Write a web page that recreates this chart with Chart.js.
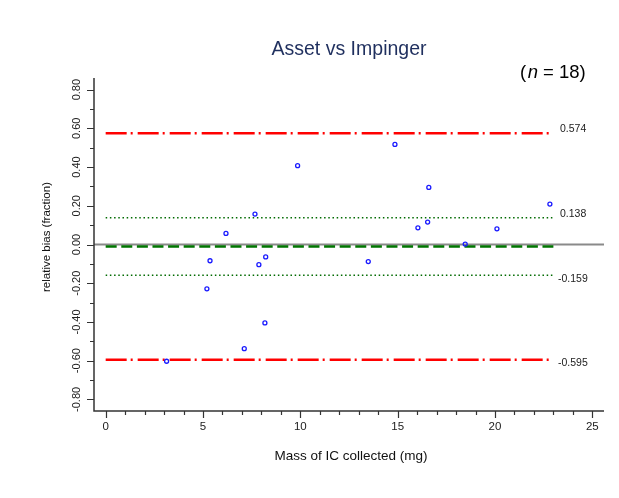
<!DOCTYPE html>
<html>
<head>
<meta charset="utf-8">
<script src="https://cdn.jsdelivr.net/npm/chart.js@4"></script>
<style>
  body { margin: 0; background: #fff; }
  #wrap { width: 619px; height: 498px; position: relative; }
</style>
</head>
<body>
<div id="wrap"><canvas id="biasChart"></canvas></div>
<script>
// mass collected (mg) and relative bias for each sample pair
let mass = [3.13, 5.2, 5.36, 6.18, 7.12, 7.67, 7.87, 8.18, 8.22, 9.86, 13.49, 14.86, 16.04, 16.54, 16.6, 18.47, 20.1, 22.82];
let bias = [-0.603, -0.229, -0.084, 0.057, -0.538, 0.157, -0.104, -0.405, -0.064, 0.407, -0.088, 0.517, 0.086, 0.116, 0.295, 0.002, 0.081, 0.209];

// mean bias, +/- 1 sd and +/- 95% limits
let meanBias = -0.0105;
let sdLimits = [0.138, -0.159];
let outerLimits = [0.574, -0.595];
let lineStart = 0;
let lineEnd = 23;

let xTicks = [0, 5, 10, 15, 20, 25];
let yTicks = [-0.8, -0.6, -0.4, -0.2, 0, 0.2, 0.4, 0.6, 0.8];

const FONT = '"Liberation Sans", Arial, sans-serif';

function hline(v, color, width, dash) {
  return {
    type: 'line',
    data: [{x: lineStart, y: v}, {x: lineEnd, y: v}],
    borderColor: color,
    borderWidth: width,
    borderDash: dash,
    pointRadius: 0,
    fill: false,
    order: 2
  };
}

let datasets = [{
  type: 'scatter',
  data: mass.map((m, i) => ({x: m, y: bias[i]})),
  pointRadius: 2,
  pointBorderWidth: 1.3,
  pointBorderColor: '#1a1aff',
  pointBackgroundColor: 'rgba(255,255,255,0)',
  order: 0
}];
outerLimits.forEach(v => datasets.push(hline(v, '#ff0000', 2.5, [21, 4, 2, 5])));
sdLimits.forEach(v => datasets.push(hline(v, '#006a00', 1.5, [1.5, 2.7])));
datasets.push(hline(meanBias, '#007500', 2.5, [11, 4.6]));

// axes, ticks and text drawn by hand so the layout stays fixed
const decor = {
  id: 'decor',
  beforeDatasetsDraw(chart) {
    const c = chart.ctx, a = chart.chartArea;
    const y = chart.scales.y;
    c.save();
    c.strokeStyle = '#8a8a8a';
    c.lineWidth = 2;
    c.beginPath();
    c.moveTo(a.left, y.getPixelForValue(0));
    c.lineTo(a.right, y.getPixelForValue(0));
    c.stroke();
    c.restore();
  },
  afterDraw(chart) {
    const c = chart.ctx, a = chart.chartArea;
    const x = chart.scales.x, y = chart.scales.y;
    c.save();
    c.strokeStyle = '#333';
    c.lineWidth = 1.5;
    c.beginPath();
    c.moveTo(a.left, a.top);
    c.lineTo(a.left, a.bottom);
    c.lineTo(a.right, a.bottom);
    c.stroke();

    c.lineWidth = 1.2;
    c.beginPath();
    for (let i = -8; i <= 8; i++) {
      let py = Math.round(y.getPixelForValue(i / 10)) + 0.5;
      c.moveTo(a.left, py);
      c.lineTo(a.left - (i % 2 === 0 ? 7 : 4), py);
    }
    for (let i = 0; i <= 25; i++) {
      let px = Math.round(x.getPixelForValue(i)) + 0.5;
      c.moveTo(px, a.bottom);
      c.lineTo(px, a.bottom + (i % 5 === 0 ? 7 : 4));
    }
    c.stroke();

    c.fillStyle = '#222';
    c.font = '11.5px ' + FONT;
    c.textAlign = 'center';
    c.textBaseline = 'middle';
    xTicks.forEach(t => c.fillText(String(t), x.getPixelForValue(t), 427));
    c.font = '11px ' + FONT;
    yTicks.forEach(t => {
      c.save();
      c.translate(77, y.getPixelForValue(t));
      c.rotate(-Math.PI / 2);
      c.fillText(t.toFixed(2), 0, 0);
      c.restore();
    });

    // limit values beside the lines
    c.font = '10.5px ' + FONT;
    c.textAlign = 'left';
    outerLimits.concat(sdLimits).forEach(v => {
      let py = y.getPixelForValue(v) + (v > 0 ? -4 : 3.5);
      c.fillText(v.toFixed(3), v > 0 ? 560 : 558, py);
    });

    c.textAlign = 'center';
    c.font = '13.5px ' + FONT;
    c.fillStyle = '#111';
    c.fillText('Mass of IC collected (mg)', 351, 456);
    c.save();
    c.translate(47, 237);
    c.rotate(-Math.PI / 2);
    c.font = '11.5px ' + FONT;
    c.fillText('relative bias (fraction)', 0, 0);
    c.restore();

    c.font = '19.5px ' + FONT;
    c.fillStyle = '#1f2f5e';
    c.fillText('Asset vs Impinger', 349, 50);

    // sample count
    c.fillStyle = '#000';
    c.font = '18.5px ' + FONT;
    c.textAlign = 'left';
    let px = 520;
    c.fillText('(', px, 73); px += c.measureText('(').width + 1.5;
    c.font = 'italic 18.5px ' + FONT;
    c.fillText('n', px, 73); px += c.measureText('n').width;
    c.font = '18.5px ' + FONT;
    c.fillText(' = 18)', px, 73);
    c.restore();
  }
};

new Chart(document.getElementById('biasChart'), {
  type: 'scatter',
  data: { datasets: datasets },
  options: {
    responsive: true,
    maintainAspectRatio: false,
    animation: false,
    layout: { padding: { left: 94, right: 15, top: 78, bottom: 87 } },
    scales: {
      x: { type: 'linear', min: -0.6, max: 25.6, display: false },
      y: { type: 'linear', min: -0.86, max: 0.86, display: false }
    },
    plugins: {
      legend: { display: false },
      tooltip: { enabled: false }
    }
  },
  plugins: [decor]
});
</script>
</body>
</html>
